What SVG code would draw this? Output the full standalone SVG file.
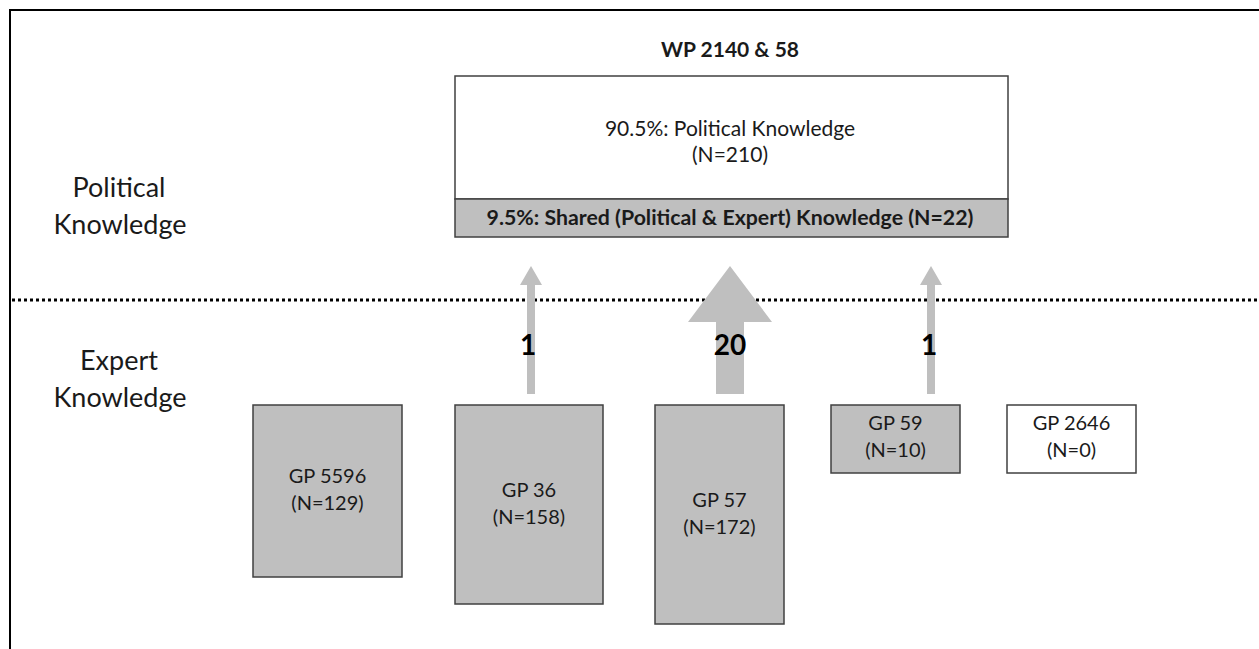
<svg xmlns="http://www.w3.org/2000/svg" width="1259" height="649" viewBox="0 0 1259 649">
<style>
text{font-family:Lato,"Open Sans","Liberation Sans",sans-serif;fill:#1a1a1a;text-anchor:middle}
.t{font-size:20px}
.m{font-size:21px}
.b{font-weight:bold}
.bb{font-size:21.3px;font-weight:bold}
.lab{font-size:27px}
.num{font-size:28px;font-weight:bold;fill:#000}
.box{fill:#bfbfbf;stroke:#404040;stroke-width:1.5}
.wbox{fill:#fff;stroke:#404040;stroke-width:1.5}
.arr{fill:#bfbfbf}
</style>
<rect width="1259" height="649" fill="#fff"/>
<path d="M10,649 V10 H1259" fill="none" stroke="#000" stroke-width="2"/>
<line x1="12" y1="300" x2="1259" y2="300" stroke="#000" stroke-width="3" stroke-dasharray="3 3"/>
<g id="side-labels">
<text class="lab" x="119" y="197">Political</text>
<text class="lab" x="120" y="234">Knowledge</text>
<text class="lab" x="119" y="370">Expert</text>
<text class="lab" x="120" y="407">Knowledge</text>
</g>
<g id="wp">
<text class="m b" x="730" y="57">WP 2140 &amp; 58</text>
<rect class="wbox" x="455" y="76" width="553" height="123"/>
<text class="m" x="730" y="136">90.5%: Political Knowledge</text>
<text class="m" x="730" y="162">(N=210)</text>
<rect class="box" x="455" y="199" width="553" height="38"/>
<text class="bb" x="730" y="225">9.5%: Shared (Political &amp; Expert) Knowledge (N=22)</text>
</g>
<g id="connectors">
<polygon class="arr" points="527,394 527,285 520,285 531,266 542,285 535,285 535,394"/>
<polygon class="arr" points="716,394 716,322 688,322 730,266 772,322 744,322 744,394"/>
<polygon class="arr" points="927,394 927,285 920,285 931,266 942,285 935,285 935,394"/>
<text class="num" x="528" y="355">1</text>
<text class="num" x="730" y="355">20</text>
<text class="num" x="929" y="355">1</text>
</g>
<g id="gp5596">
<rect class="box" x="253" y="405" width="149" height="172"/>
<text class="t" x="327.5" y="483">GP 5596</text>
<text class="t" x="327.5" y="510">(N=129)</text>
</g>
<g id="gp36">
<rect class="box" x="455" y="405" width="148" height="199"/>
<text class="t" x="529" y="497">GP 36</text>
<text class="t" x="529" y="524">(N=158)</text>
</g>
<g id="gp57">
<rect class="box" x="655" y="405" width="129" height="219"/>
<text class="t" x="719.5" y="507">GP 57</text>
<text class="t" x="719.5" y="534">(N=172)</text>
</g>
<g id="gp59">
<rect class="box" x="831" y="405" width="129" height="68"/>
<text class="t" x="895.5" y="430">GP 59</text>
<text class="t" x="895.5" y="457">(N=10)</text>
</g>
<g id="gp2646">
<rect class="wbox" x="1007" y="405" width="129" height="68"/>
<text class="t" x="1071.5" y="430">GP 2646</text>
<text class="t" x="1071.5" y="457">(N=0)</text>
</g>
</svg>
